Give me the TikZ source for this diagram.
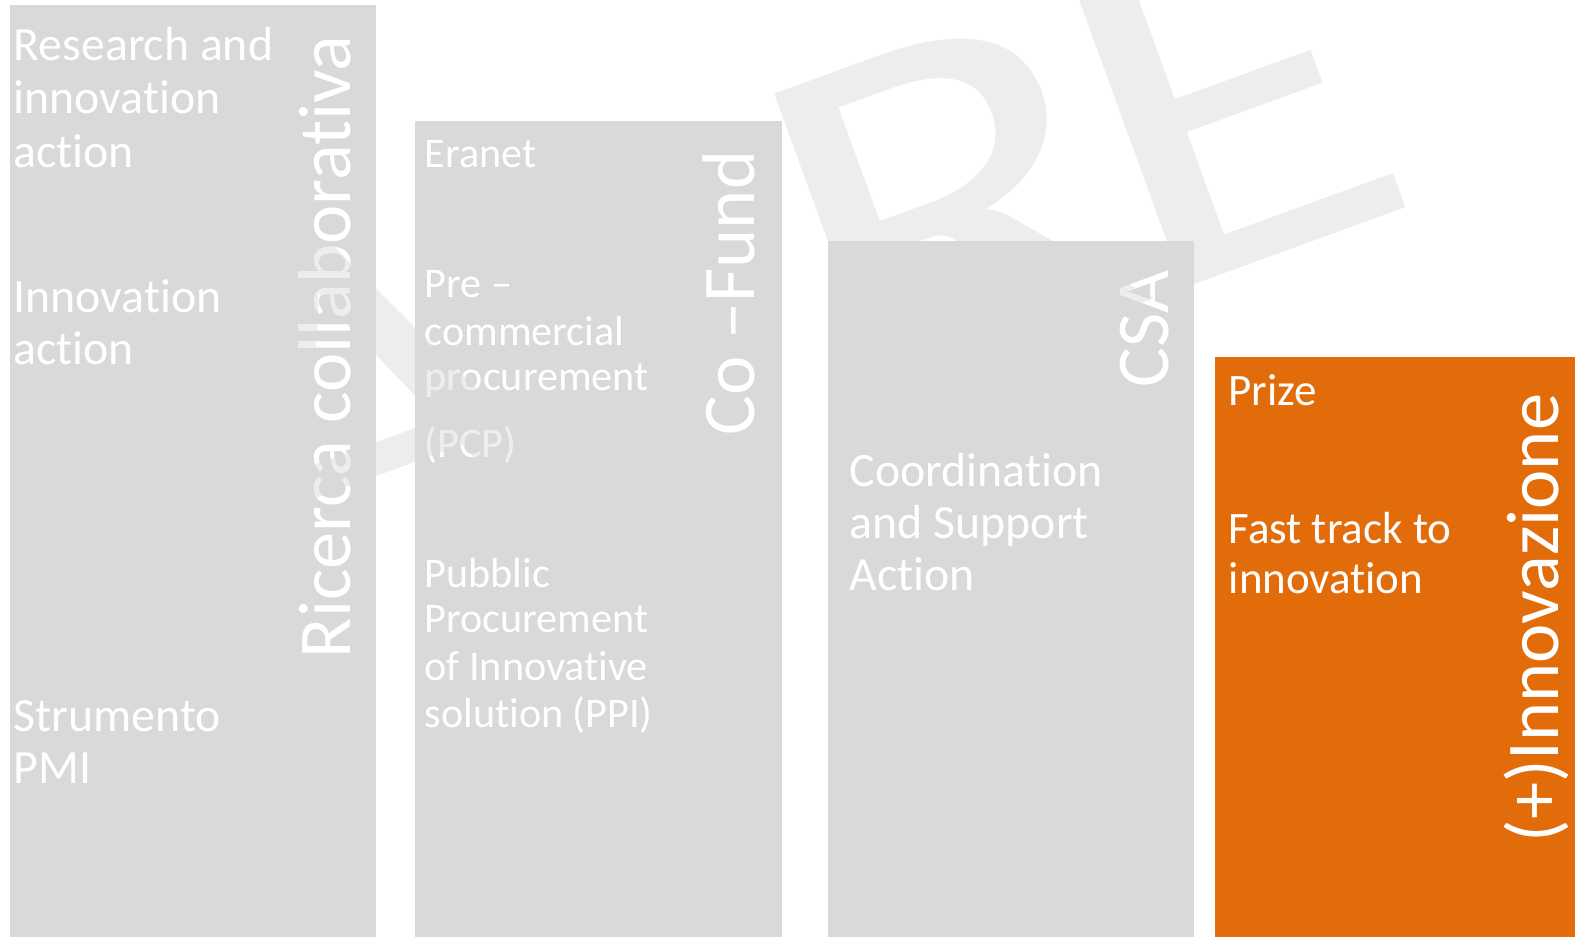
\documentclass[tikz,border=0pt]{standalone}
\usepackage{fontspec}
\setmainfont{Carlito}[Ligatures=NoCommon]
\usepackage{tikz}
\usetikzlibrary{calc}
\definecolor{colGray}{RGB}{217,217,217}
\definecolor{colOrange}{RGB}{227,108,10}
\definecolor{markGray}{RGB}{237,237,237}
\newcommand{\bodyfont}{\fontsize{13.6}{15}\selectfont}
\newcommand{\narrowfont}{\fontsize{12.0}{14}\selectfont}
\newcommand{\prizefont}{\fontsize{12.8}{15}\selectfont}
\newcommand{\sidefont}{\fontsize{21.2}{24}\selectfont}
\newcommand{\markfont}{\fontsize{143}{143}\selectfont}

\begin{document}
\begin{tikzpicture}[
  line/.style={anchor=base west,inner sep=0pt,text=white},
  side/.style={anchor=base west,inner sep=0pt,text=white,rotate=90,font=\sidefont},
  wmletter/.style={anchor=base west,inner sep=0pt,text=markGray,rotate=20,xscale=1.25,font=\markfont}]
\useasboundingbox (0,0) rectangle (15.75,9.37);

%--- columns ----------------------------------------------------------------
\fill[colGray] (0.10,0) rectangle (3.76,9.32);
\fill[colGray] (4.15,0) rectangle (7.82,8.16);
\fill[colGray] (8.28,0) rectangle (11.94,6.96);
\fill[colOrange] (12.15,0) rectangle (15.75,5.80);

%--- Ricerca collaborativa --------------------------------------------------
\node[line,font=\bodyfont] (ria1) at (0.13,8.77) {Research and};
\node[line,font=\bodyfont] (ria2) at (0.13,8.24) {innovation};
\node[line,font=\bodyfont] (ria3) at (0.13,7.70) {action};
\node[line,font=\bodyfont] (ia1) at (0.13,6.25) {Innovation};
\node[line,font=\bodyfont] (ia2) at (0.13,5.73) {action};
\node[line,font=\bodyfont] (pmi1) at (0.13,2.06) {Strumento};
\node[line,font=\bodyfont] (pmi2) at (0.13,1.54) {PMI};
\node[side] (ricerca) at (3.50,2.78) {Ricerca collaborativa};

%--- Co-Fund ----------------------------------------------------------------
\node[line,font=\narrowfont] (eranet) at (4.24,7.70) {Eranet};
\node[line,font=\narrowfont] (pcp1) at (4.24,6.40) {Pre –};
\node[line,font=\narrowfont] (pcp2) at (4.24,5.92) {commercial};
\node[line,font=\narrowfont] (pcp3) at (4.24,5.47) {procurement};
\node[line,font=\narrowfont] (pcp4) at (4.24,4.80) {(PCP)};
\node[line,font=\narrowfont] (ppi1) at (4.24,3.50) {Pubblic};
\node[line,font=\narrowfont] (ppi2) at (4.24,3.05) {Procurement};
\node[line,font=\narrowfont] (ppi3) at (4.24,2.57) {of Innovative};
\node[line,font=\narrowfont] (ppi4) at (4.24,2.10) {solution (PPI)};
\node[side] (cofund) at (7.54,5.01) {Co –Fund};

%--- CSA --------------------------------------------------------------------
\node[line,font=\bodyfont] (csa1) at (8.49,4.51) {Coordination};
\node[line,font=\bodyfont] (csa2) at (8.49,3.99) {and Support};
\node[line,font=\bodyfont] (csa3) at (8.49,3.47) {Action};
\node[side] (csa) at (11.68,5.49) {CSA};

%--- (+)Innovazione ---------------------------------------------------------
\node[line,font=\prizefont] (prize) at (12.28,5.32) {Prize};
\node[line,font=\prizefont] (ftti1) at (12.28,3.94) {Fast track to};
\node[line,font=\prizefont] (ftti2) at (12.28,3.44) {innovation};
\node[side] (innov) at (15.58,0.94) {(+)Innovazione};

%--- watermark, darkens only what is lighter than it ------------------------
\begin{scope}[blend mode=darken]
  \coordinate (wm) at (11.88,6.50);
  \node[wmletter] (wmA) at ($(wm)+(20:-10.02)+(110:0.12)$) {A};
  \node[wmletter] (wmR) at ($(wm)+(20:-3.69)$) {R};
  \node[wmletter] (wmE) at ($(wm)+(20:-0.49)$) {E};
\end{scope}

\end{tikzpicture}
\end{document}
